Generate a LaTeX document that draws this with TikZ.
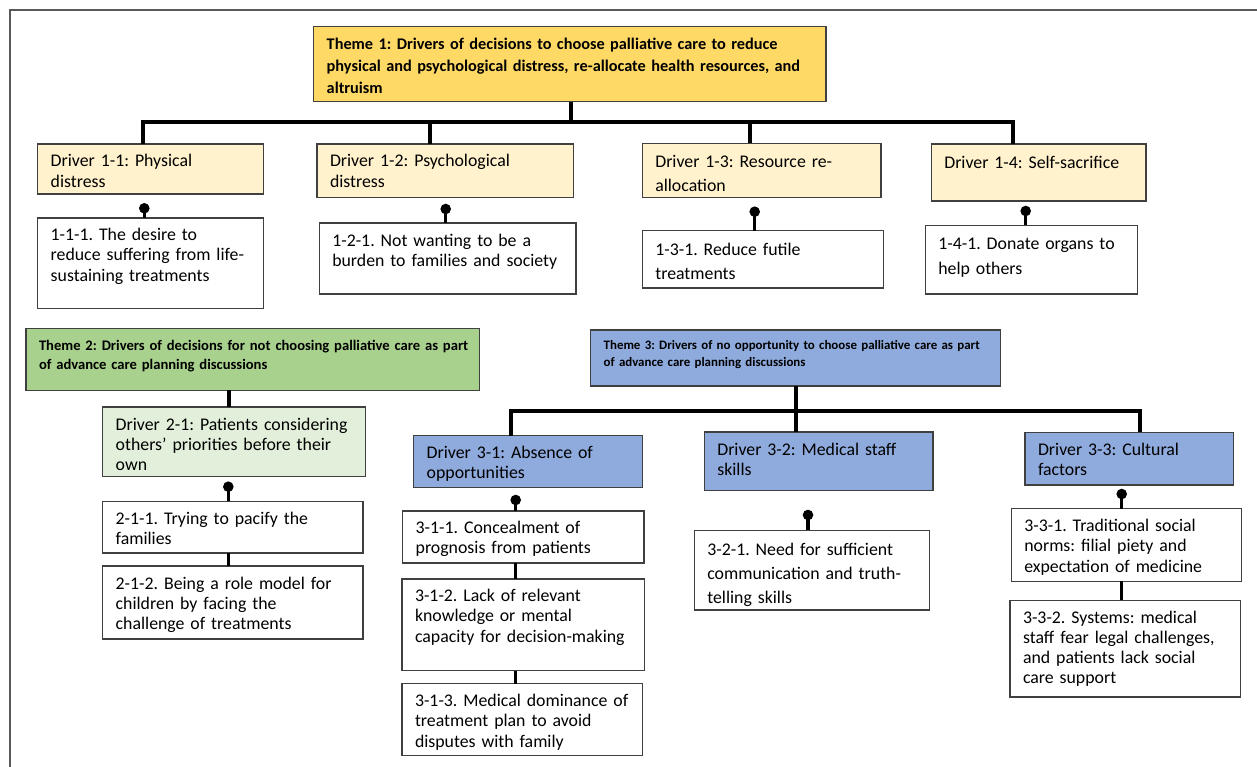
\documentclass[tikz,border=0pt]{standalone}
\usepackage{fontspec}
\setmainfont{Carlito}
\frenchspacing
\definecolor{thA}{HTML}{FFD966}
\definecolor{drA}{HTML}{FFF2CC}
\definecolor{thB}{HTML}{A9D18E}
\definecolor{drB}{HTML}{E2EFDA}
\definecolor{thC}{HTML}{8FAADC}
\definecolor{bordc}{HTML}{404040}
\definecolor{framec}{HTML}{595959}
\newcommand\ftA{\bfseries\fontsize{16.3}{21.7}\selectfont}
\newcommand\ftB{\bfseries\fontsize{14.6}{19.5}\selectfont}
\newcommand\ftC{\bfseries\fontsize{12.9}{17.5}\selectfont}
\newcommand\ftR{\fontsize{17.8}{20.2}\selectfont}
\newcommand\ftW{\fontsize{17.8}{24.2}\selectfont}
% name, style, x1, y1, x2, y2, font, first baseline, text
\newcommand\tbox[9]{%
  \node[#2, anchor=north west, minimum width={(#5-#3)*1pt}, minimum height={(#6-#4)*1pt}] (#1) at (#3,#4) {};
  \node[txt, font=#7] (#1t) at ({#3+13},{#8-20}) {\rule{0pt}{20pt}#9};
}
\begin{document}
\begin{tikzpicture}[x=1pt,y=-1pt,
  box/.style={draw=bordc, line width=1.4pt, inner sep=0pt, outer sep=0pt},
  thAbox/.style={box, fill=thA},
  drAbox/.style={box, fill=drA},
  thBbox/.style={box, fill=thB},
  drBbox/.style={box, fill=drB},
  thCbox/.style={box, fill=thC},
  subbox/.style={box, fill=white},
  txt/.style={inner sep=0pt, outer sep=0pt, text width=560pt, align=left, anchor=north west},
  bus/.style={line width=3.6pt, black},
  stem/.style={line width=3.2pt, black},
  ball/.style={fill=black},
  frame/.style={draw=framec, line width=1.5pt}
]
\useasboundingbox (0,0) rectangle (1257,767);
\begin{scope}
  \clip (0,0) rectangle (1257,767);
  \draw[frame] (10,10) rectangle (1280,790);
\end{scope}

% Theme 1
\tbox{t1}{thAbox}{313.7}{26.7}{826}{101.7}{\ftA}{50}{Theme 1: Drivers of decisions to choose palliative care to reduce\\physical and psychological distress, re-allocate health resources, and\\altruism}
\tbox{d11}{drAbox}{37.7}{144}{263.3}{194}{\ftR}{167}{Driver 1-1: Physical\\distress}
\tbox{d12}{drAbox}{317}{144}{573.3}{197.3}{\ftR}{167}{Driver 1-2: Psychological\\distress}
\tbox{d13}{drAbox}{642.3}{143.3}{881}{197.3}{\ftW}{167.5}{Driver 1-3: Resource re-\\allocation}
\tbox{d14}{drAbox}{931.3}{144}{1146}{201}{\ftR}{168.3}{Driver 1-4: Self-sacrifice}
\tbox{s111}{subbox}{37.7}{218}{263.3}{308.7}{\ftR}{240.7}{1-1-1. The desire to\\reduce suffering from life-\\sustaining treatments}
\tbox{s121}{subbox}{319.3}{223}{576}{294}{\ftR}{246.5}{1-2-1. Not wanting to be a\\burden to families and society}
\tbox{s131}{subbox}{642.3}{230.7}{883.3}{288}{\ftW}{255}{1-3-1. Reduce futile\\treatments}
\tbox{s141}{subbox}{925.3}{225.3}{1137.7}{294}{\ftW}{250}{1-4-1. Donate organs to\\help others}

% Theme 2
\tbox{t2}{thBbox}{26}{328.3}{479.3}{390.3}{\ftB}{350}{Theme 2: Drivers of decisions for not choosing palliative care as part\\of advance care planning discussions}
\tbox{d21}{drBbox}{102.7}{407}{365.7}{476.3}{\ftR}{430}{Driver 2-1: Patients considering\\others’ priorities before their\\own}
\tbox{s211}{subbox}{102.7}{501.3}{363}{553}{\ftR}{524}{2-1-1. Trying to pacify the\\families}
\tbox{s212}{subbox}{102.7}{566}{363}{639}{\ftR}{589}{2-1-2. Being a role model for\\children by facing the\\challenge of treatments}

% Theme 3
\tbox{t3}{thCbox}{590.7}{330}{1000.3}{386}{\ftC}{349.3}{Theme 3: Drivers of no opportunity to choose palliative care as part\\of advance care planning discussions}
\tbox{d31}{thCbox}{413.7}{435.7}{642.3}{487.3}{\ftR}{458.3}{Driver 3-1: Absence of\\opportunities}
\tbox{d32}{thCbox}{704.3}{432}{933}{490.3}{\ftR}{455}{Driver 3-2: Medical staff\\skills}
\tbox{d33}{thCbox}{1025}{432.3}{1233.7}{485}{\ftR}{455}{Driver 3-3: Cultural\\factors}
\tbox{s311}{subbox}{402.7}{511}{644}{563}{\ftR}{533.3}{3-1-1. Concealment of\\prognosis from patients}
\tbox{s312}{subbox}{402}{579}{644.7}{670.7}{\ftR}{601.7}{3-1-2. Lack of relevant\\knowledge or mental\\capacity for decision-making}
\tbox{s313}{subbox}{402}{683.7}{642.3}{755.7}{\ftR}{706.7}{3-1-3. Medical dominance of\\treatment plan to avoid\\disputes with family}
\tbox{s321}{subbox}{694.3}{530.3}{929.7}{610}{\ftW}{555}{3-2-1. Need for sufficient\\communication and truth-\\telling skills}
\tbox{s331}{subbox}{1011.3}{508.7}{1241.7}{581.3}{\ftR}{531.7}{3-3-1. Traditional social\\norms: filial piety and\\expectation of medicine}
\tbox{s332}{subbox}{1010}{600.3}{1240.7}{697}{\ftR}{623.3}{3-3-2. Systems: medical\\staff fear legal challenges,\\and patients lack social\\care support}

% Theme 1 connectors
\coordinate (j1a) at (143,122.3);
\coordinate (j1b) at (430,122.3);
\coordinate (j1c) at (750,122.3);
\coordinate (j1d) at (1012.7,122.3);
\coordinate (j1t) at (571,122.3);
\draw[bus] (j1a |- d11.north) -- (j1a) -- (j1d) -- (j1d |- d14.north);
\draw[bus] (j1b) -- (j1b |- d12.north);
\draw[bus] (j1c) -- (j1c |- d13.north);
\draw[bus] (j1t |- t1.south) -- (j1t);

\coordinate (b11) at (144.3,208.3);
\coordinate (b12) at (445.7,209);
\coordinate (b13) at (754.7,211.7);
\coordinate (b14) at (1025.7,211);
\foreach \b/\s in {b11/s111, b12/s121, b13/s131, b14/s141}{
  \fill[ball] (\b) circle[radius=5.3pt];
  \draw[stem] (\b) -- (\b |- \s.north);
}

% Theme 2 connectors
\coordinate (j2) at (228.7,400);
\draw[bus] (j2 |- t2.south) -- (j2 |- d21.north);
\coordinate (b21) at (228.3,486.7);
\fill[ball] (b21) circle[radius=5.3pt];
\draw[stem] (b21) -- (b21 |- s211.north);
\draw[stem] (b21 |- s211.south) -- (b21 |- s212.north);

% Theme 3 connectors
\coordinate (j3a) at (510.7,410.7);
\coordinate (j3t) at (796,410.7);
\coordinate (j3c) at (1140,410.7);
\draw[bus] (j3a |- d31.north) -- (j3a) -- (j3c) -- (j3c |- d33.north);
\draw[bus] (j3t |- t3.south) -- (j3t |- d32.north);

\coordinate (b31) at (515.7,500);
\coordinate (b32) at (808,515);
\coordinate (b33) at (1121.7,494);
\foreach \b/\s in {b31/s311, b32/s321, b33/s331}{
  \fill[ball] (\b) circle[radius=5.3pt];
  \draw[stem] (\b) -- (\b |- \s.north);
}
\draw[stem] (b31 |- s311.south) -- (b31 |- s312.north);
\draw[stem] (b31 |- s312.south) -- (b31 |- s313.north);
\draw[stem] (b33 |- s331.south) -- (b33 |- s332.north);
\end{tikzpicture}
\end{document}
